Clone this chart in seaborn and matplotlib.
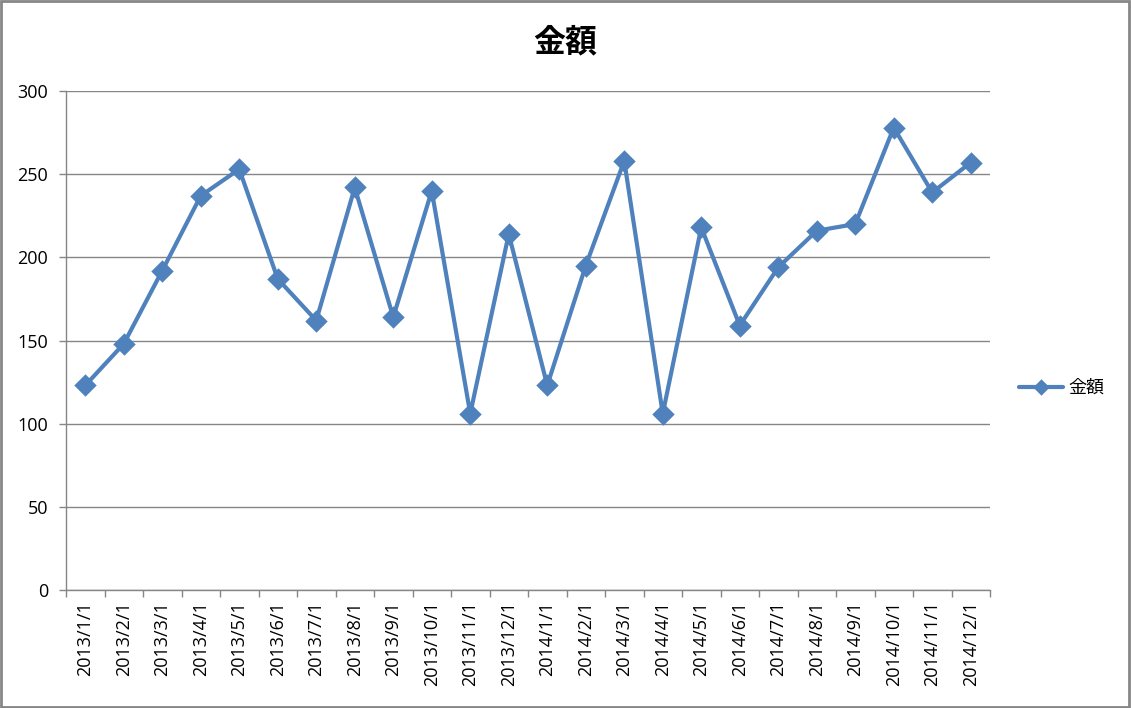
import pandas as pd
import seaborn as sns
import matplotlib.pyplot as plt
from matplotlib.patches import Rectangle
from matplotlib.ticker import MultipleLocator, FixedLocator

# データ
dates = [
    "2013/1/1", "2013/2/1", "2013/3/1", "2013/4/1", "2013/5/1", "2013/6/1",
    "2013/7/1", "2013/8/1", "2013/9/1", "2013/10/1", "2013/11/1", "2013/12/1",
    "2014/1/1", "2014/2/1", "2014/3/1", "2014/4/1", "2014/5/1", "2014/6/1",
    "2014/7/1", "2014/8/1", "2014/9/1", "2014/10/1", "2014/11/1", "2014/12/1",
]
amounts = [
    123, 148, 192, 237, 253, 187, 162, 242, 164, 240, 106, 214,
    123, 195, 258, 106, 218, 159, 194, 216, 220, 278, 239, 257,
]

df = pd.DataFrame({"日付": dates, "金額": amounts})

sns.set_theme(style="white")
plt.rcParams["font.family"] = ["Open Sans", "Noto Sans CJK JP", "DejaVu Sans"]
plt.rcParams["text.color"] = "black"

blue = "#4F81BD"
gray = "#868686"

fig = plt.figure(figsize=(11.31, 7.08), dpi=100)
ax = fig.add_axes([66 / 1131, 118 / 708, 924 / 1131, 499 / 708])

sns.pointplot(
    data=df, x="日付", y="金額", ax=ax, color=blue,
    markers="D", markersize=9, linewidth=3, label="金額",
)

ax.set_xlim(-0.5, len(dates) - 0.5)
ax.set_ylim(0, 300)
ax.yaxis.set_major_locator(MultipleLocator(50))
ax.grid(axis="y", color=gray, linewidth=1)
ax.set_axisbelow(True)

for s in ["top", "right"]:
    ax.spines[s].set_visible(False)
for s in ["left", "bottom"]:
    ax.spines[s].set_color(gray)
    ax.spines[s].set_linewidth(1)

ax.set_xlabel("")
ax.set_ylabel("")
ax.set_xticks(range(len(dates)))
ax.set_xticklabels(dates, rotation=90, fontsize=13)
ax.xaxis.set_minor_locator(FixedLocator([i - 0.5 for i in range(len(dates) + 1)]))
ax.tick_params(axis="x", which="major", length=0, pad=8, labelcolor="black")
ax.tick_params(axis="x", which="minor", length=5, color=gray, width=1, bottom=True)
ax.tick_params(axis="y", length=5, color=gray, width=1, left=True, labelsize=13,
               pad=8, labelcolor="black")

fig.text(0.5, 1 - 42 / 708, "金額", ha="center", va="center", color="black",
         fontsize=23, fontweight="bold", family=["Noto Sans CJK JP", "DejaVu Sans"])

leg = ax.legend(
    loc="center left", bbox_to_anchor=(1003 / 1131, 1 - 388 / 708),
    bbox_transform=fig.transFigure, frameon=False, handlelength=2.4,
    handletextpad=0.3, markerscale=0.7,
    prop={"family": ["Noto Sans CJK JP"], "size": 13},
)
for t in leg.get_texts():
    t.set_color("black")

fig.patches.append(Rectangle((0.001, 0.002), 0.997, 0.996, transform=fig.transFigure,
                             fill=False, edgecolor=gray, linewidth=2))

fig.savefig("out.png", dpi=100)
